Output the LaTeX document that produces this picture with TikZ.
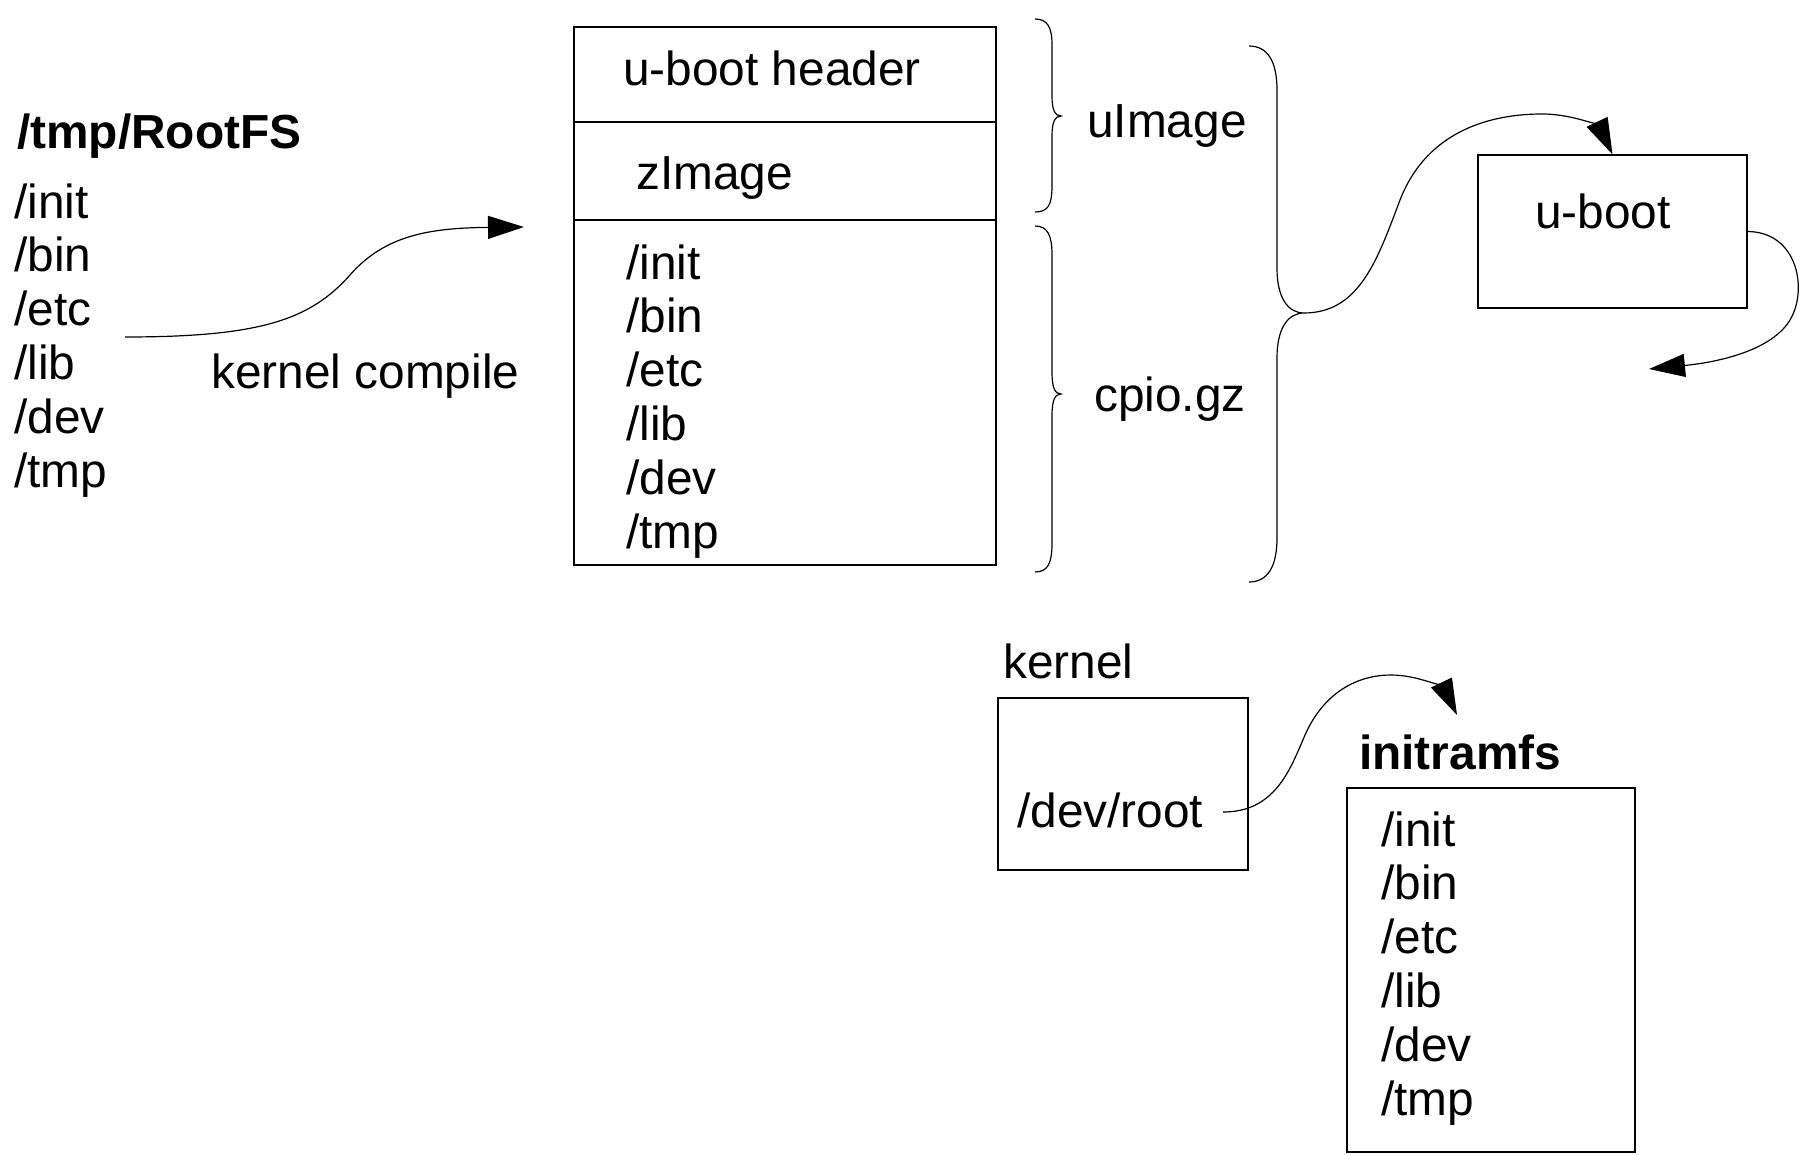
\documentclass[tikz,border=0pt]{standalone}
\usepackage{fontspec}
\setmainfont{Liberation Sans}
\usetikzlibrary{arrows.meta}
\newcommand\myfs{\fontsize{47.8}{55}\selectfont}
\begin{document}
\begin{tikzpicture}[x=1pt,y=-1pt,
  txt/.style={anchor=west, inner sep=0pt, text height=0.72em, text depth=0pt, font=\myfs, yshift=-11.5pt},
  btxt/.style={txt, font=\myfs\bfseries},
  box/.style={draw, line width=1.2pt, inner sep=0pt},
  conn/.style={line width=1.2pt},
  arr/.style={conn, -{Triangle[length=36pt, width=23pt]}},
  brace/.style={line width=1.2pt}]
\useasboundingbox (0,0) rectangle (1818,1155);

% left list
\node[btxt] (rootfs) at (17,133) {/tmp/RootFS};
\foreach \t [count=\i] in {/init,/bin,/etc,/lib,/dev,/tmp}
  \node[txt] (l\i) at (14,{203+53.8*(\i-1)}) {\t};
\node[txt] (kc) at (211,373) {kernel compile};

% main image box
\node[box, minimum width=422pt, minimum height=95pt] (hdr) at (785,74.5) {};
\node[box, minimum width=422pt, minimum height=98pt] (zimg) at (785,171) {};
\node[box, minimum width=422pt, minimum height=345pt] (cpio) at (785,392.5) {};
\node[txt] (hdrt) at (623,70) {u-boot header};
\node[txt] (zimgt) at (636,174) {zImage};
\foreach \t [count=\i] in {/init,/bin,/etc,/lib,/dev,/tmp}
  \node[txt] (m\i) at (626,{264+53.8*(\i-1)}) {\t};

% braces
\draw[brace] (1035,19) .. controls (1048,19) and (1052,28) .. (1052,45) -- (1052,96)
  .. controls (1052,110) and (1055,116) .. (1061,116)
  .. controls (1055,116) and (1052,122) .. (1052,136) -- (1052,186)
  .. controls (1052,205) and (1048,212) .. (1035,212);
\draw[brace] (1035,226) .. controls (1048,226) and (1052,236) .. (1052,255) -- (1052,372)
  .. controls (1052,388) and (1055,394) .. (1061,394)
  .. controls (1055,394) and (1052,400) .. (1052,416) -- (1052,543)
  .. controls (1052,563) and (1048,572) .. (1035,572);
\node[txt] (uimg) at (1087,122) {uImage};
\node[txt] (cpiot) at (1094,396) {cpio.gz};
\draw[brace] (1249,46) .. controls (1268,46) and (1277,62) .. (1277,90) -- (1277,268)
  .. controls (1277,298) and (1288,313) .. (1304,313)
  .. controls (1288,313) and (1277,328) .. (1277,358) -- (1277,538)
  .. controls (1277,566) and (1268,582) .. (1249,582);
\coordinate (bt) at (1304,313);

% u-boot
\node[box, minimum width=269pt, minimum height=153pt] (ub) at (1612.5,231.5) {};
\node[font=\myfs, inner sep=0pt, text height=0.72em, text depth=0pt, yshift=-11.5pt] (ubt) at (1603,213) {u-boot};
\coordinate (ret) at (1649,369);

% kernel
\node[txt] (kern) at (1003,663) {kernel};
\node[box, minimum width=250pt, minimum height=172pt] (kbox) at (1123,784) {};
\node[txt] (devroot) at (1017,812) {/dev/root};
\coordinate (drs) at (1223,812);

% initramfs
\node[btxt] (irfs) at (1359,754) {initramfs};
\node[box, minimum width=288pt, minimum height=364pt] (ibox) at (1491,970) {};
\foreach \t [count=\i] in {/init,/bin,/etc,/lib,/dev,/tmp}
  \node[txt] (r\i) at (1381,{831+53.8*(\i-1)}) {\t};

% connectors
\coordinate (a1s) at (125,337);
\coordinate (a1e) at (524,227);
\draw[arr] (a1s) .. controls (260,337) and (310,320) .. (350,275)
  .. controls (385,235) and (430,228) .. (a1e);
\draw[arr] (bt) .. controls (1360,313) and (1378,258) .. (1400,200)
  .. controls (1428,128) and (1495,114) .. (1542,114)
  .. controls (1575,114) and (1600,128) .. (ub.north);
\draw[arr] (ub.east) .. controls (1798,232) and (1808,290) .. (1790,320)
  .. controls (1772,350) and (1720,362) .. (ret);
\draw[arr] (drs) .. controls (1275,812) and (1290,770) .. (1305,735)
  .. controls (1325,690) and (1360,675) .. (1391,675)
  .. controls (1420,675) and (1445,690) .. (1457,715);
\end{tikzpicture}
\end{document}
